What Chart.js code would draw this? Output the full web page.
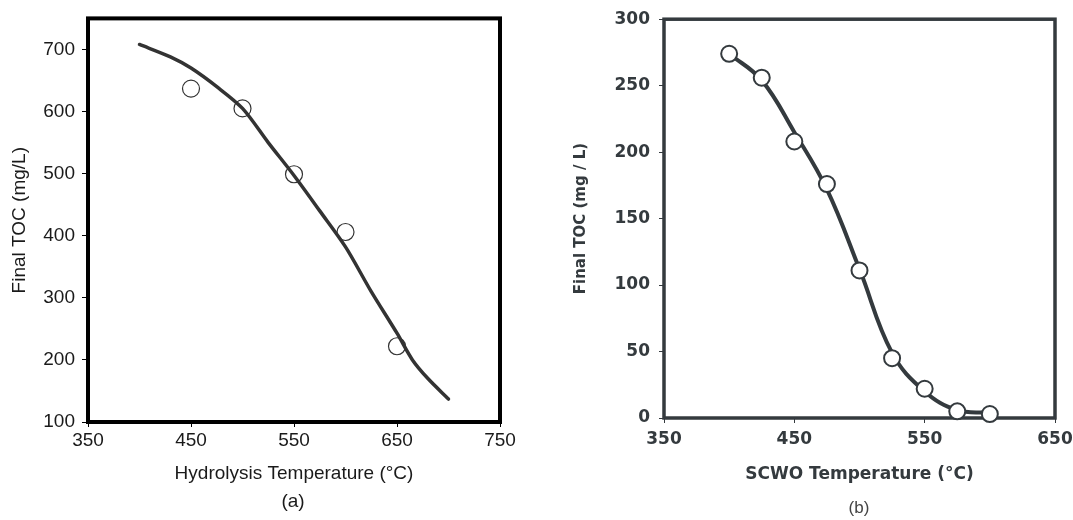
<!DOCTYPE html>
<html>
<head>
<meta charset="utf-8">
<script src="https://cdn.jsdelivr.net/npm/chart.js@4/dist/chart.umd.min.js"></script>
<style>
  html, body { margin: 0; padding: 0; background: #fff; overflow: hidden; }
  body { width: 1073px; height: 520px; position: relative; }
  canvas { position: absolute; top: 0; }
  #chartA { left: 0; }
  #chartB { left: 520px; }
  .cap { position: absolute; transform: translate(-50%, -50%); white-space: nowrap; }
  #capA { left: 293px; top: 501px; font: 19px "Liberation Sans", Arial, sans-serif; color: #1a1a1a; }
  #capB { left: 859px; top: 508px; font: 17px "Liberation Sans", Arial, sans-serif; color: #444; }
</style>
</head>
<body>
<canvas id="chartA" width="520" height="520"></canvas>
<canvas id="chartB" width="560" height="520"></canvas>
<div class="cap" id="capA">(a)</div>
<div class="cap" id="capB">(b)</div>
<script>
/* ---------- data ---------- */
// (a) hydrolysis
const hydroTemp = [450, 500, 550, 600, 650];
const hydroToc  = [637, 605, 499, 406, 222];
const hydroFitTemp = [400, 430, 450, 475, 500, 525, 550, 575, 600, 625, 650, 665, 680, 700];
const hydroFitToc  = [708, 688, 670, 640, 605, 550, 497, 440, 382, 310, 243, 200, 170, 137];
const hydroXTicks = [350, 450, 550, 650, 750];
const hydroYTicks = [100, 200, 300, 400, 500, 600, 700];

// (b) SCWO
const scwoTemp = [400, 425, 450, 475, 500, 525, 550, 575, 600];
const scwoToc  = [274, 256, 208, 176, 111, 45, 22, 5, 3];
const scwoFitTemp = [400, 425, 450, 475, 500, 525, 550, 575, 600];
const scwoFitToc  = [274, 254, 215, 172, 112, 49, 20, 6, 4];
const scwoXTicks = [350, 450, 550, 650];
const scwoYTicks = [0, 50, 100, 150, 200, 250, 300];

const pts = (xs, ys) => xs.map((x, i) => ({ x, y: ys[i] }));

/* ---------- frame plugin: box around the plot area ---------- */
const framePlugin = {
  id: "frame",
  beforeDatasetsDraw(chart, args, opts) {
    const { ctx, chartArea: a } = chart;
    ctx.save();
    ctx.strokeStyle = opts.color;
    ctx.lineWidth = opts.width;
    ctx.strokeRect(a.left, a.top, a.right - a.left, a.bottom - a.top);
    ctx.restore();
  }
};

function tickCb(list) {
  return (v) => (list.includes(v) ? String(v) : "");
}

/* ---------- (a) ---------- */
const fontA = '"Liberation Sans", Arial, sans-serif';
new Chart(document.getElementById("chartA"), {
  type: "scatter",
  data: {
    datasets: [
      {
        data: pts(hydroTemp, hydroToc),
        order: 0,
        showLine: false,
        pointRadius: 8.5,
        pointBorderWidth: 1.2,
        pointBorderColor: "#333",
        pointBackgroundColor: "rgba(0,0,0,0)"
      },
      {
        data: pts(hydroFitTemp, hydroFitToc),
        order: 1,
        showLine: true,
        tension: 0.3,
        borderColor: "#333",
        borderWidth: 3.5,
        pointRadius: 0,
        borderCapStyle: "round"
      }
    ]
  },
  options: {
    responsive: false,
    devicePixelRatio: 1,
    animation: false,
    layout: { padding: { left: 0, right: 20, top: 16, bottom: 0 } },
    plugins: {
      legend: { display: false },
      tooltip: { enabled: false },
      frame: { color: "#000", width: 4 }
    },
    scales: {
      x: {
        type: "linear",
        min: 350, max: 750,
        afterFit: (s) => { s.height = 98; },
        border: { display: false },
        grid: { drawOnChartArea: false, drawTicks: true, tickLength: 5, color: "#000", lineWidth: 1 },
        ticks: { stepSize: 100, padding: 2, color: "#1a1a1a", font: { family: fontA, size: 19 }, callback: tickCb(hydroXTicks) },
        title: { display: true, text: "Hydrolysis Temperature (°C)", color: "#1a1a1a", font: { family: fontA, size: 19 }, padding: { top: 0, bottom: 35 } }
      },
      y: {
        type: "linear",
        min: 100, max: 750,
        afterFit: (s) => { s.width = 88; },
        border: { display: false },
        grid: { drawOnChartArea: false, drawTicks: true, tickLength: 6, color: "#000", lineWidth: 1 },
        ticks: { stepSize: 100, includeBounds: false, padding: 7, color: "#1a1a1a", font: { family: fontA, size: 19 }, callback: tickCb(hydroYTicks) },
        title: { display: true, text: "Final TOC (mg/L)", color: "#1a1a1a", font: { family: fontA, size: 19 }, padding: { top: 8, bottom: 0 } }
      }
    }
  },
  plugins: [framePlugin]
});

/* ---------- (b) ---------- */
const fontB = '"DejaVu Sans", Verdana, sans-serif';
const inkB = "#343a3e";
new Chart(document.getElementById("chartB"), {
  type: "scatter",
  data: {
    datasets: [
      {
        data: pts(scwoTemp, scwoToc),
        order: 0,
        showLine: false,
        pointRadius: 8,
        pointBorderWidth: 2,
        pointBorderColor: inkB,
        pointBackgroundColor: "#fff",
        clip: false
      },
      {
        data: pts(scwoFitTemp, scwoFitToc),
        order: 1,
        showLine: true,
        tension: 0.4,
        borderColor: inkB,
        borderWidth: 4,
        pointRadius: 0,
        clip: false
      }
    ]
  },
  options: {
    responsive: false,
    devicePixelRatio: 1,
    animation: false,
    layout: { padding: { left: 0, right: 25, top: 19, bottom: 0 } },
    plugins: {
      legend: { display: false },
      tooltip: { enabled: false },
      frame: { color: inkB, width: 3.5 }
    },
    scales: {
      x: {
        type: "linear",
        min: 350, max: 650,
        afterFit: (s) => { s.height = 102; },
        border: { display: false },
        grid: { drawOnChartArea: false, drawTicks: true, tickLength: 5, color: inkB, lineWidth: 1 },
        ticks: { stepSize: 100, padding: 6, color: inkB, font: { family: fontB, size: 17, weight: "bold" }, callback: tickCb(scwoXTicks) },
        title: { display: true, text: "SCWO Temperature (°C)", color: inkB, font: { family: fontB, size: 17, weight: "bold" }, padding: { top: 0, bottom: 35 } }
      },
      y: {
        type: "linear",
        min: 0, max: 300,
        afterFit: (s) => { s.width = 144; },
        border: { display: false },
        grid: { drawOnChartArea: false, drawTicks: true, tickLength: 5, color: inkB, lineWidth: 1 },
        ticks: { stepSize: 50, padding: 9, color: inkB, font: { family: fontB, size: 17, weight: "bold" }, callback: tickCb(scwoYTicks) },
        title: { display: true, text: "Final TOC (mg / L)", color: inkB, font: { family: fontB, size: 15, weight: "bold" }, padding: { top: 52, bottom: 0 } }
      }
    }
  },
  plugins: [framePlugin]
});
</script>
</body>
</html>
